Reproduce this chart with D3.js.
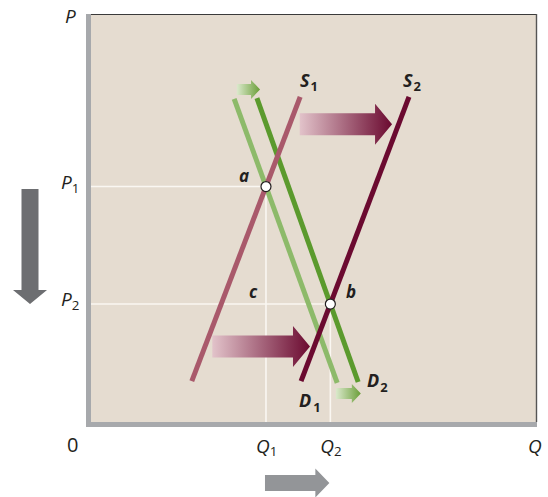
<!DOCTYPE html>
<html>
<head>
<meta charset="utf-8">
<script src="https://cdn.jsdelivr.net/npm/d3@7"></script>
<style>
  html, body { margin: 0; padding: 0; background: #ffffff; }
  svg { display: block; }
  text { font-family: "Open Sans", "Lato", "DejaVu Sans", sans-serif; fill: #231f20; }
</style>
</head>
<body>
<svg id="chart" width="548" height="497"></svg>
<script>
// Supply and demand curves, quantity (q) and price (p) on a 0–100 scale
const curveNames = ["D1", "D2", "S1", "S2"];
const curveStart = [[32.1, 79.2], [37.2, 79.4], [22.6, 10.0], [47.1, 10.0]];
const curveEnd   = [[55.2, 9.6],  [59.9, 9.8],  [46.9, 79.7], [71.3, 79.7]];

// Equilibria: a = S1 ∩ D1, b = S2 ∩ D2
const equilibriumNames = ["a", "b"];
const equilibriumPairs = [["S1", "D1"], ["S2", "D2"]];
const priceTicks = ["P1", "P2"];
const quantityTicks = ["Q1", "Q2"];

// Shift arrows: [tail q, tip q, level p]
const shiftNames = ["supplyUpper", "supplyLower", "demandUpper", "demandLower"];
const shiftFrom  = [46.8, 27.2, 32.7, 54.9];
const shiftTo    = [67.5, 49.1, 37.9, 60.5];
const shiftLevel = [73.0, 18.5, 81.5, 7.0];

const svg = d3.select("#chart");
const plot = { left: 91, right: 537, top: 14, bottom: 422 };

const x = d3.scaleLinear().domain([0, 100]).range([plot.left, plot.right]);
const y = d3.scaleLinear().domain([0, 100]).range([plot.bottom, plot.top]);

const colors = { S1: "#a9596b", S2: "#6b0a30", D1: "#8dba6a", D2: "#5b9a2d" };

const curves = curveNames.map((n, i) => ({ name: n, a: curveStart[i], b: curveEnd[i] }));
const byName = Object.fromEntries(curves.map(c => [c.name, c]));

function intersect(c1, c2) {
  const [x1, y1] = c1.a, [x2, y2] = c1.b, [x3, y3] = c2.a, [x4, y4] = c2.b;
  const d = (x1 - x2) * (y3 - y4) - (y1 - y2) * (x3 - x4);
  const t = ((x1 - x3) * (y3 - y4) - (y1 - y3) * (x3 - x4)) / d;
  return [x1 + t * (x2 - x1), y1 + t * (y2 - y1)];
}
const eq = equilibriumPairs.map((p, i) => {
  const [q, pr] = intersect(byName[p[0]], byName[p[1]]);
  return { name: equilibriumNames[i], q, p: pr };
});

const defs = svg.append("defs");
function grad(id, c0, c1) {
  const g = defs.append("linearGradient").attr("id", id)
    .attr("x1", "0%").attr("x2", "100%").attr("y1", "0%").attr("y2", "0%");
  g.append("stop").attr("offset", "0%").attr("stop-color", c0);
  g.append("stop").attr("offset", "100%").attr("stop-color", c1);
}
grad("gradMaroon", "#e2c3ca", "#6b0a30");
grad("gradGreen", "#dbe9cc", "#6a9e38");

// Panel
svg.append("rect")
  .attr("x", plot.left).attr("y", plot.top)
  .attr("width", plot.right - plot.left).attr("height", plot.bottom - plot.top)
  .attr("fill", "#e5dcd0");
svg.append("line").attr("x1", plot.left).attr("x2", plot.right)
  .attr("y1", plot.top + 0.5).attr("y2", plot.top + 0.5)
  .attr("stroke", "#3a3a3a").attr("stroke-width", 1.2);
svg.append("line").attr("x1", plot.right - 0.5).attr("x2", plot.right - 0.5)
  .attr("y1", plot.top).attr("y2", plot.bottom)
  .attr("stroke", "#555").attr("stroke-width", 1.4);

// Guide lines from the axes to each equilibrium
const guides = svg.append("g").attr("stroke", "#faf7f2").attr("stroke-width", 1.6);
eq.forEach(e => {
  guides.append("line").attr("x1", x(0)).attr("x2", x(e.q)).attr("y1", y(e.p)).attr("y2", y(e.p));
  guides.append("line").attr("x1", x(e.q)).attr("x2", x(e.q)).attr("y1", y(e.p)).attr("y2", y(0));
});

// Axes drawn as thick grey bars
svg.append("rect").attr("x", 86).attr("y", plot.top).attr("width", 5).attr("height", plot.bottom - plot.top + 5).attr("fill", "#a7a9ac");
svg.append("rect").attr("x", 86).attr("y", plot.bottom).attr("width", plot.right - 86).attr("height", 5).attr("fill", "#a7a9ac");

// Arrow helper (horizontal, pointing right)
function hArrow(g, x0, x1, yc, shaft, headW, headL, fill) {
  const hs = shaft / 2, hh = headW / 2;
  const pts = [[x0, yc - hs], [x1 - headL, yc - hs], [x1 - headL, yc - hh], [x1, yc],
               [x1 - headL, yc + hh], [x1 - headL, yc + hs], [x0, yc + hs]];
  g.append("path").attr("d", d3.line()(pts) + "Z").attr("fill", fill);
}

// Shift arrows
const arrows = svg.append("g");
shiftNames.forEach((n, i) => {
  if (n.startsWith("supply")) {
    hArrow(arrows, x(shiftFrom[i]), x(shiftTo[i]), y(shiftLevel[i]), 22, 41, 17, "url(#gradMaroon)");
  } else {
    hArrow(arrows, x(shiftFrom[i]), x(shiftTo[i]), y(shiftLevel[i]), 11, 19, 9, "url(#gradGreen)");
  }
});

// Curves: demand first, supply over it
const curveG = svg.append("g");
["D1", "D2", "S1", "S2"].forEach(n => {
  const c = byName[n];
  curveG.append("line")
    .attr("x1", x(c.a[0])).attr("y1", y(c.a[1]))
    .attr("x2", x(c.b[0])).attr("y2", y(c.b[1]))
    .attr("stroke", colors[n]).attr("stroke-width", 5);
});

// Equilibrium markers
svg.append("g").selectAll("circle").data(eq).join("circle")
  .attr("cx", d => x(d.q)).attr("cy", d => y(d.p)).attr("r", 5)
  .attr("fill", "#ffffff").attr("stroke", "#231f20").attr("stroke-width", 1.2);

// Text helper with subscript
function label(txt, sub, px, py, opts = {}) {
  const size = opts.size || 16;
  const t = svg.append("text").attr("x", px).attr("y", py)
    .attr("font-size", size)
    .attr("font-style", opts.italic === false ? "normal" : "italic")
    .attr("font-weight", opts.bold ? 700 : 400)
    .attr("text-anchor", opts.anchor || "start");
  t.append("tspan").text(txt);
  if (sub) {
    t.append("tspan").text(sub)
      .attr("font-size", size * (opts.subScale || 0.75))
      .attr("font-style", "normal")
      .attr("dx", opts.subDx != null ? opts.subDx : 1)
      .attr("dy", opts.subDy != null ? opts.subDy : 4);
  }
  return t;
}

// Axis titles and tick labels
label("P", null, 65, 23, { size: 19 });
label("0", null, 67, 452, { size: 20, italic: false });
label("Q", null, 528, 453, { size: 19 });
priceTicks.forEach((t, i) => {
  label("P", t.slice(1), 61, y(eq[i].p) + 2, { size: 19, subScale: 0.7, subDy: 4, subDx: 0 });
});
quantityTicks.forEach((t, i) => {
  label("Q", t.slice(1), x(eq[i].q) - 10, 453, { size: 19, subScale: 0.7, subDy: 3, subDx: 0 });
});

// Point labels
label("a", null, 239, 182, { size: 17, bold: true });
label("c", null, 249, 298, { size: 17, bold: true });
label("b", null, 346, 298, { size: 17, bold: true });

// Curve labels
label("S", "1", 300, 87, { size: 18, bold: true, subScale: 0.72, subDy: 4, subDx: 1 });
label("S", "2", 403, 87, { size: 18, bold: true, subScale: 0.72, subDy: 4, subDx: 1 });
label("D", "1", 299, 407, { size: 18, bold: true, subScale: 0.72, subDy: 5, subDx: 2 });
label("D", "2", 367, 387, { size: 18, bold: true, subScale: 0.72, subDy: 5, subDx: 1 });

// Outcome arrows: price falls, quantity rises
const outG = svg.append("g");
{
  const xc = 30, y0 = 189, y1 = 304, shaft = 17, headW = 34, headL = 14;
  const pts = [[xc - shaft / 2, y0], [xc + shaft / 2, y0], [xc + shaft / 2, y1 - headL], [xc + headW / 2, y1 - headL],
               [xc, y1], [xc - headW / 2, y1 - headL], [xc - shaft / 2, y1 - headL]];
  outG.append("path").attr("d", d3.line()(pts) + "Z").attr("fill", "#6d6e71");
}
hArrow(outG, x(eq[0].q) - 1, x(eq[1].q) - 1, 483, 16, 29, 14, "#939598");
</script>
</body>
</html>
